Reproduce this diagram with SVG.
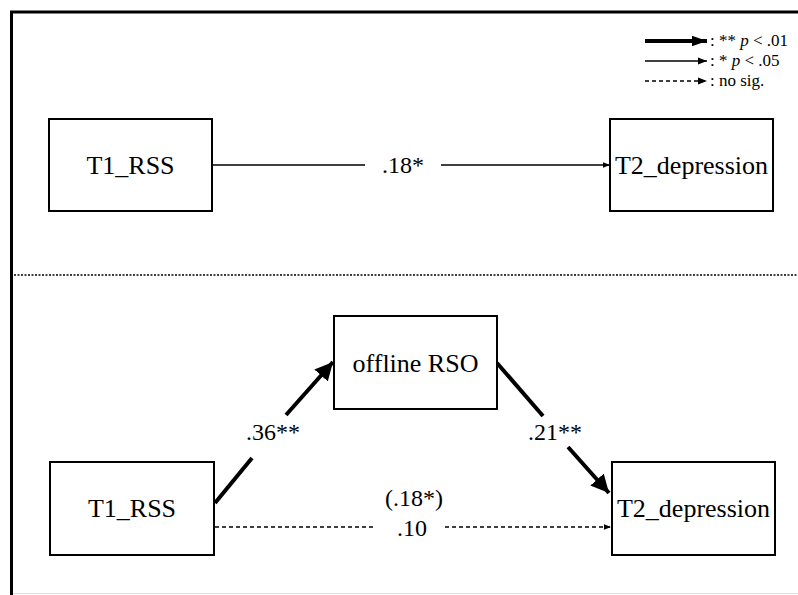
<svg xmlns="http://www.w3.org/2000/svg" width="798" height="595" viewBox="0 0 798 595">
<style>
.box{fill:#fff;stroke:#000;stroke-width:2}
.t{font-family:"Liberation Serif","Times New Roman","DejaVu Serif",serif;font-size:24px;fill:#000;text-anchor:middle}
.n{font-size:26px}
.lg{font-family:"Liberation Serif","Times New Roman","DejaVu Serif",serif;font-size:17px;fill:#000}
.thin{stroke:#000;stroke-width:1.5;fill:none}
.thick{stroke:#000;stroke-width:4;fill:none}
.dash{stroke:#000;stroke-width:1.5;fill:none;stroke-dasharray:4 3}
</style>
<defs>
<marker id="ah" viewBox="0 0 10 10" refX="10" refY="5" markerWidth="7" markerHeight="7" markerUnits="userSpaceOnUse" orient="auto"><path d="M0,1 L10,5 L0,9 Z" fill="#000"/></marker>
<marker id="ahb" viewBox="0 0 10 10" refX="10" refY="5" markerWidth="18" markerHeight="18" markerUnits="userSpaceOnUse" orient="auto"><path d="M0,0 L10,5 L0,10 Z" fill="#000"/></marker>
<marker id="ahl" viewBox="0 0 10 10" refX="10" refY="5" markerWidth="15" markerHeight="15" markerUnits="userSpaceOnUse" orient="auto"><path d="M0,1.5 L10,5 L0,8.5 Z" fill="#000"/></marker>
<marker id="ahs" viewBox="0 0 10 10" refX="10" refY="5" markerWidth="9" markerHeight="9" markerUnits="userSpaceOnUse" orient="auto"><path d="M0,1 L10,5 L0,9 Z" fill="#000"/></marker>
</defs>
<rect width="798" height="595" fill="#fff"/>
<g id="frame">
<line x1="10" y1="12" x2="798" y2="12" stroke="#000" stroke-width="3"/>
<line x1="11.5" y1="11" x2="11.5" y2="595" stroke="#000" stroke-width="3"/>
<line x1="13" y1="593.5" x2="798" y2="593.5" stroke="#ddd" stroke-width="1"/>
<line x1="14" y1="275" x2="798" y2="275" stroke="#000" stroke-width="1.5" stroke-dasharray="2 1.5"/>
</g>
<g id="legend">
<line class="thick" x1="645" y1="41" x2="707" y2="41" marker-end="url(#ahl)"/>
<text class="lg" x="710" y="46">: ** <tspan font-style="italic">p</tspan> &lt; .01</text>
<line class="thin" x1="645" y1="61" x2="707" y2="61" marker-end="url(#ahs)"/>
<text class="lg" x="710" y="66">: * <tspan font-style="italic">p</tspan> &lt; .05</text>
<line class="dash" x1="645" y1="81" x2="707" y2="81" marker-end="url(#ahs)"/>
<text class="lg" x="710" y="86">: no sig.</text>
</g>
<g id="connectors">
<line class="thin" x1="213" y1="165" x2="365" y2="165"/>
<line class="thin" x1="441" y1="165" x2="610" y2="165" marker-end="url(#ah)"/>
<text class="t" x="403" y="173">.18*</text>
<line class="thick" x1="215" y1="503" x2="252" y2="458"/>
<line class="thick" x1="286" y1="415" x2="333" y2="362" marker-end="url(#ahb)"/>
<text class="t" x="273" y="440">.36**</text>
<line class="thick" x1="497" y1="363" x2="543" y2="416"/>
<line class="thick" x1="568" y1="447" x2="609" y2="493" marker-end="url(#ahb)"/>
<text class="t" x="555" y="440">.21**</text>
<line class="dash" x1="215" y1="527" x2="376" y2="527"/>
<line class="dash" x1="445" y1="527" x2="611" y2="527" marker-end="url(#ah)"/>
<text class="t" x="414" y="506">(.18*)</text>
<text class="t" x="412" y="536">.10</text>
</g>
<g id="top_t1"><rect class="box" x="49" y="119" width="163" height="92"/><text class="t n" x="130.5" y="174">T1_RSS</text></g>
<g id="top_t2"><rect class="box" x="610" y="119" width="163" height="92"/><text class="t n" x="691.5" y="174">T2_depression</text></g>
<g id="offline_rso"><rect class="box" x="334" y="316" width="163" height="93"/><text class="t n" x="415.5" y="372">offline RSO</text></g>
<g id="bot_t1"><rect class="box" x="50" y="462" width="164" height="93"/><text class="t n" x="132" y="517">T1_RSS</text></g>
<g id="bot_t2"><rect class="box" x="612" y="462" width="163" height="93"/><text class="t n" x="693.5" y="517">T2_depression</text></g>
</svg>
